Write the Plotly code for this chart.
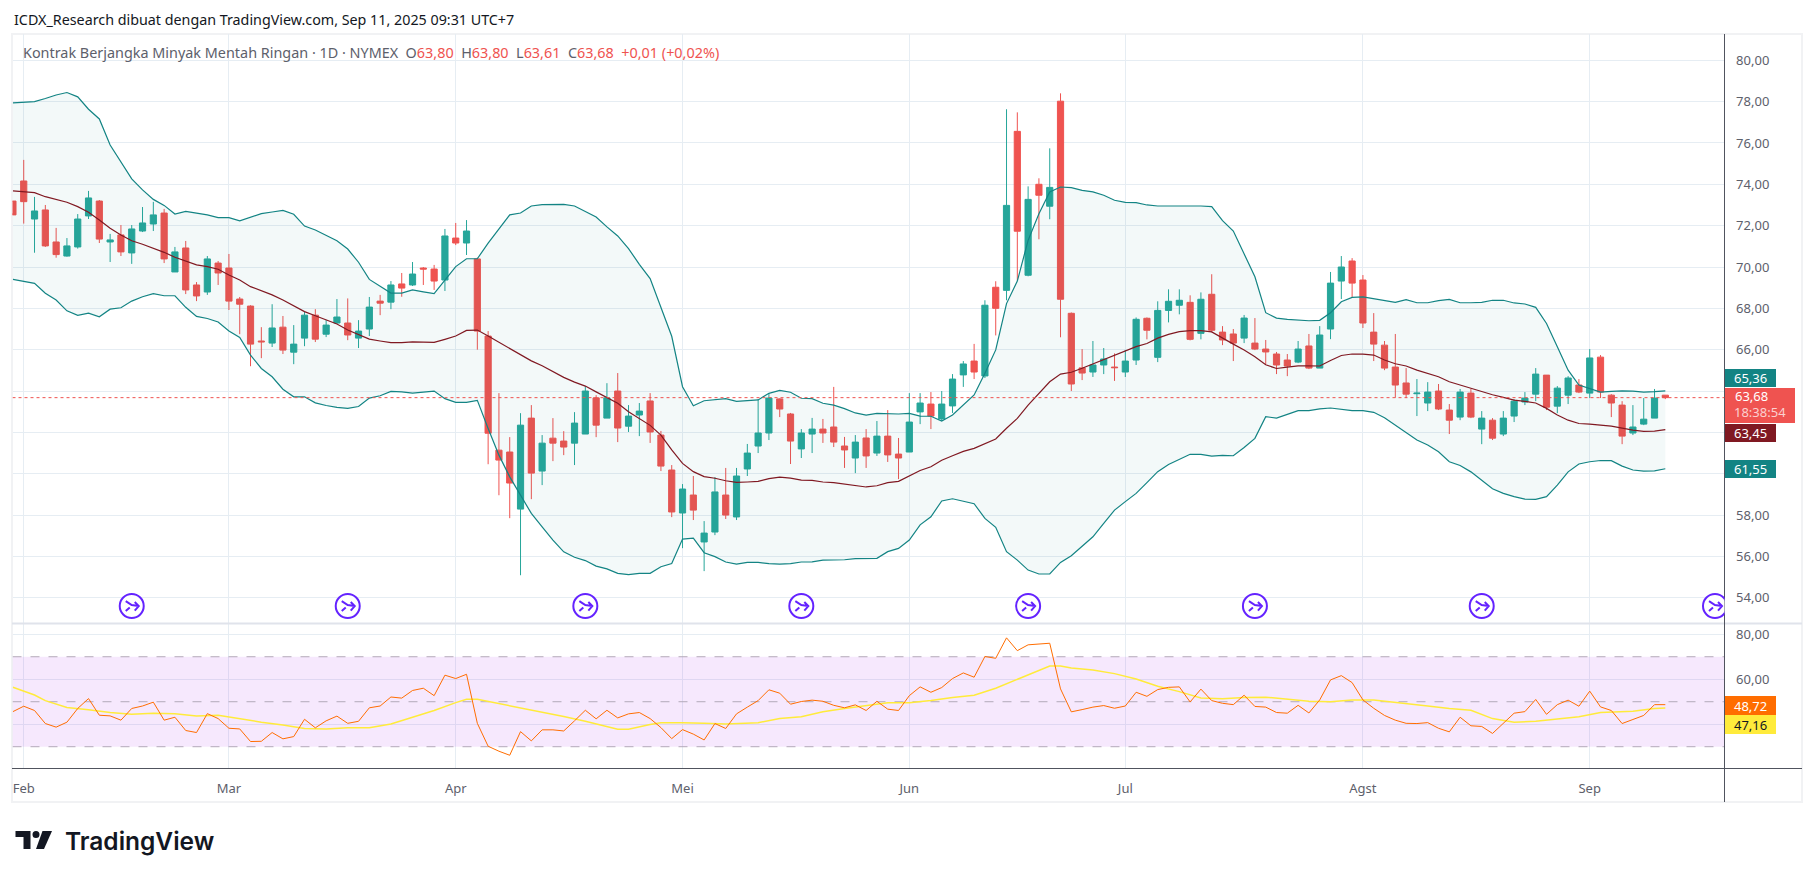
import plotly.graph_objects as go

W = 1814
H = 878

# bar numbers: 0 = Jan 31, last = Sep 11
months = ['Feb', 'Mar', 'Apr', 'Mei', 'Jun', 'Jul', 'Agst', 'Sep']
month_bars = [1, 20, 41, 62, 83, 103, 125, 146]
price_ticks = [54, 56, 58, 60, 62, 64, 66, 68, 70, 72, 74, 76, 78, 80]
# 60, 62 and 64 sit behind the value tags on the scale
price_labels = ['54,00', '56,00', '58,00', '', '', '', '66,00', '68,00', '70,00', '72,00', '74,00', '76,00', '78,00', '80,00']
rsi_ticks = [40, 60, 80]
rsi_labels = ['', '60,00', '80,00']
last_close = 63.68
event_bars = [11, 31, 53, 73, 94, 115, 136, 157.6]
event_price = 53.6

opens = [73.19, 74.16, 72.32, 72.76, 71.21, 70.53, 70.97, 72.47, 73.19, 71.21,
         71.55, 70.68, 71.74, 72.08, 72.61, 69.76, 70.92, 69.13, 68.79, 70.19,
         69.95, 68.45, 68.11, 66.42, 66.32, 67.09, 65.88, 66.56, 67.67, 66.75,
         67.29, 67.29, 66.56, 67.0, 68.35, 68.3, 69.18, 69.13, 69.95, 69.9,
         69.37, 71.4, 71.16, 70.39, 66.66, 61.14, 61.05, 58.29, 62.69, 60.13,
         61.72, 61.58, 61.48, 61.92, 63.67, 62.69, 64.0, 62.3, 62.84, 63.52,
         61.87, 60.18, 58.1, 58.97, 56.7, 57.18, 58.97, 57.91, 60.23, 61.34,
         61.97, 63.62, 62.89, 61.2, 61.92, 62.16, 62.26, 61.34, 60.76, 61.73,
         61.0, 61.82, 60.95, 61.05, 62.99, 63.37, 62.65, 63.28, 64.78, 65.45,
         64.73, 69.02, 68.87, 76.56, 69.6, 74.0, 72.94, 78.02, 67.76, 65.12,
         64.92, 65.26, 65.16, 64.92, 65.5, 67.52, 65.63, 67.9, 68.15, 68.29,
         66.79, 68.68, 66.85, 66.76, 66.56, 66.32, 66.03, 65.79, 65.5, 65.4,
         66.18, 65.11, 67.0, 69.32, 70.29, 69.37, 66.85, 66.22, 65.16, 64.39,
         63.87, 63.42, 64.0, 63.08, 62.74, 63.9, 62.16, 62.59, 61.92, 62.79,
         63.47, 63.85, 64.77, 63.27, 63.8, 64.29, 63.9, 65.64, 63.8, 63.32,
         61.97, 62.4, 62.69, 63.8]
highs = [73.19, 75.18, 73.39, 73.0, 71.89, 71.4, 72.56, 73.68, 73.24, 71.6,
         72.03, 72.03, 72.9, 73.15, 72.81, 70.97, 71.26, 69.27, 70.53, 70.29,
         70.63, 68.55, 68.15, 67.09, 68.2, 67.63, 67.19, 67.82, 67.96, 67.43,
         68.45, 68.48, 67.43, 68.55, 68.65, 69.32, 69.71, 70.24, 70.0, 70.1,
         71.84, 72.13, 72.27, 70.45, 66.9, 63.9, 61.77, 62.93, 63.32, 61.87,
         62.69, 62.06, 62.98, 64.24, 63.8, 64.38, 64.87, 63.32, 63.42, 63.9,
         62.07, 60.42, 59.5, 59.89, 57.71, 59.84, 60.28, 60.28, 61.44, 63.6,
         63.86, 63.65, 62.94, 62.16, 62.7, 62.65, 64.2, 61.78, 61.87, 62.16,
         62.55, 63.08, 61.73, 63.9, 63.9, 63.95, 64.0, 64.82, 65.45, 66.28,
         68.39, 69.31, 77.63, 77.48, 73.9, 74.29, 75.74, 78.4, 67.8, 66.03,
         66.42, 66.08, 65.82, 65.99, 67.56, 67.56, 68.34, 68.92, 68.92, 68.63,
         68.77, 69.65, 67.14, 67.0, 67.68, 67.53, 66.47, 65.89, 65.79, 66.42,
         66.76, 67.14, 69.76, 70.53, 70.43, 69.61, 67.77, 66.42, 66.76, 65.11,
         64.58, 64.43, 64.34, 63.37, 64.1, 64.1, 63.03, 62.69, 63.03, 63.61,
         63.95, 65.11, 64.77, 64.24, 64.72, 64.58, 66.03, 65.74, 63.85, 63.51,
         63.32, 63.66, 64.1, 63.8]
lows = [72.52, 72.1, 70.69, 70.97, 70.45, 70.5, 70.89, 72.32, 71.16, 70.24,
        70.53, 70.15, 71.69, 71.74, 70.19, 69.76, 68.69, 68.35, 68.65, 69.13,
        67.92, 66.75, 65.2, 65.59, 66.13, 65.79, 65.3, 66.17, 66.37, 66.61,
        67.25, 66.46, 66.08, 66.66, 67.67, 67.96, 68.56, 69.08, 69.13, 68.89,
        68.84, 71.06, 70.58, 66.0, 60.46, 58.96, 57.85, 55.09, 58.77, 59.45,
        60.61, 60.9, 60.42, 61.92, 61.77, 62.69, 61.53, 62.02, 61.82, 61.49,
        60.13, 57.9, 56.4, 57.76, 55.29, 57.03, 57.81, 57.76, 59.89, 61.0,
        61.63, 62.74, 60.47, 60.76, 61.0, 61.49, 61.29, 60.28, 60.03, 60.28,
        60.86, 60.57, 59.74, 61.05, 62.4, 62.16, 62.55, 62.94, 64.2, 64.58,
        64.63, 66.69, 68.39, 69.35, 69.55, 71.34, 72.31, 66.6, 64.0, 64.53,
        64.68, 64.82, 64.49, 64.68, 65.26, 66.5, 65.4, 67.32, 67.71, 66.45,
        66.5, 66.84, 66.22, 65.45, 66.32, 65.98, 65.3, 64.82, 64.72, 65.35,
        65.06, 65.11, 66.51, 68.45, 68.55, 67.05, 65.45, 65.01, 63.68, 63.66,
        62.79, 63.03, 63.08, 61.92, 62.59, 62.69, 61.43, 61.63, 61.82, 62.5,
        63.32, 63.51, 63.08, 62.93, 63.37, 63.9, 63.66, 63.66, 62.74, 61.43,
        61.87, 62.35, 62.69, 63.61]
closes = [72.52, 73.16, 72.71, 71.02, 70.6, 71.02, 72.32, 73.34, 71.35, 71.31,
          70.73, 71.84, 72.13, 72.52, 70.39, 70.73, 68.89, 68.6, 70.39, 69.71,
          68.35, 68.2, 66.27, 66.38, 67.05, 65.98, 66.27, 67.67, 66.51, 67.19,
          67.58, 66.71, 66.9, 68.06, 68.25, 69.13, 68.98, 69.66, 69.9, 69.32,
          71.5, 71.16, 71.74, 66.9, 61.96, 60.66, 59.55, 62.35, 60.03, 61.48,
          61.48, 61.29, 62.45, 64.0, 62.35, 63.67, 62.21, 62.79, 63.03, 62.02,
          60.37, 58.15, 59.26, 58.24, 57.13, 59.12, 58.0, 59.89, 61.0, 61.97,
          63.66, 63.13, 61.58, 61.97, 62.16, 61.97, 61.53, 61.15, 61.53, 60.86,
          61.82, 60.91, 60.76, 62.5, 63.42, 62.79, 63.37, 64.58, 65.31, 64.92,
          68.15, 68.0, 72.98, 71.73, 73.27, 73.47, 73.85, 68.44, 64.34, 64.87,
          65.26, 65.55, 65.13, 65.45, 67.47, 66.94, 67.9, 68.34, 68.39, 66.5,
          68.44, 66.94, 66.47, 66.32, 67.53, 66.03, 65.89, 65.26, 65.21, 66.03,
          65.11, 66.71, 69.22, 70.0, 69.22, 67.29, 66.27, 65.11, 64.29, 63.85,
          63.9, 63.95, 63.13, 62.59, 63.95, 62.74, 62.69, 61.72, 62.69, 63.51,
          63.66, 64.82, 63.22, 64.14, 64.63, 63.95, 65.6, 63.95, 63.42, 61.82,
          62.26, 62.64, 63.66, 63.68]

bb_upper = [77.94, 77.97, 78.0, 78.15, 78.32, 78.44, 78.23, 77.63, 77.16, 75.9,
            75.11, 74.26, 73.73, 73.27, 72.98, 72.56, 72.69, 72.6, 72.52, 72.39,
            72.39, 72.23, 72.39, 72.58, 72.66, 72.74, 72.55, 71.98, 71.79, 71.53,
            71.27, 70.87, 70.23, 69.4, 69.08, 68.74, 68.74, 68.89, 68.8, 68.71,
            69.37, 70.02, 70.4, 70.4, 71.15, 71.82, 72.52, 72.61, 72.95, 73.02,
            73.03, 73.03, 72.95, 72.69, 72.42, 71.94, 71.5, 70.89, 70.13, 69.44,
            68.06, 66.65, 64.21, 63.29, 63.53, 63.57, 63.63, 63.5, 63.52, 63.57,
            63.89, 64.03, 63.94, 63.65, 63.63, 63.41, 63.32, 63.15, 62.94, 62.84,
            62.92, 62.89, 62.89, 62.92, 62.79, 62.78, 62.55, 62.84, 63.31, 63.81,
            64.86, 65.99, 68.23, 69.32, 71.29, 72.58, 73.63, 73.87, 73.84, 73.71,
            73.63, 73.47, 73.23, 73.13, 73.11, 73.0, 72.95, 72.95, 72.97, 72.94,
            72.95, 72.92, 72.24, 71.74, 70.66, 69.53, 67.79, 67.53, 67.47, 67.42,
            67.4, 67.42, 67.79, 68.32, 68.53, 68.55, 68.47, 68.37, 68.29, 68.42,
            68.27, 68.27, 68.37, 68.43, 68.27, 68.27, 68.29, 68.39, 68.39, 68.26,
            68.21, 68.05, 67.27, 66.14, 65.01, 64.29, 64.13, 63.95, 63.98, 64.01,
            64.0, 63.95, 63.97, 64.01]
bb_basis = [73.68, 73.65, 73.6, 73.4, 73.27, 73.13, 72.92, 72.65, 72.27, 71.87,
            71.55, 71.27, 71.1, 70.9, 70.71, 70.47, 70.29, 70.1, 70.02, 69.89,
            69.61, 69.37, 69.05, 68.84, 68.65, 68.4, 68.11, 67.84, 67.64, 67.43,
            67.24, 66.95, 66.74, 66.51, 66.42, 66.34, 66.34, 66.38, 66.37, 66.35,
            66.5, 66.66, 66.93, 66.95, 66.66, 66.35, 66.06, 65.77, 65.46, 65.22,
            64.92, 64.66, 64.43, 64.24, 63.96, 63.67, 63.41, 63.0, 62.68, 62.34,
            61.87, 61.15, 60.5, 60.1, 59.86, 59.78, 59.66, 59.58, 59.6, 59.63,
            59.76, 59.84, 59.79, 59.69, 59.68, 59.6, 59.57, 59.49, 59.42, 59.36,
            59.42, 59.57, 59.63, 59.89, 60.16, 60.34, 60.65, 60.87, 61.08, 61.23,
            61.44, 61.68, 62.2, 62.68, 63.32, 63.86, 64.45, 64.82, 64.91, 65.1,
            65.31, 65.5, 65.71, 65.91, 66.15, 66.3, 66.56, 66.74, 66.87, 66.92,
            66.92, 66.86, 66.55, 66.27, 65.98, 65.66, 65.27, 65.09, 65.16, 65.22,
            65.22, 65.21, 65.48, 65.72, 65.79, 65.79, 65.74, 65.5, 65.32, 65.21,
            65.01, 64.85, 64.69, 64.45, 64.29, 64.14, 63.98, 63.82, 63.69, 63.56,
            63.5, 63.42, 63.16, 62.84, 62.59, 62.43, 62.4, 62.35, 62.3, 62.21,
            62.11, 62.05, 62.06, 62.13]
bb_lower = [69.4, 69.32, 69.21, 68.73, 68.4, 67.88, 67.66, 67.77, 67.59, 67.96,
            68.03, 68.35, 68.56, 68.71, 68.61, 68.61, 68.05, 67.61, 67.51, 67.34,
            66.9, 66.59, 65.74, 65.09, 64.69, 64.09, 63.72, 63.72, 63.43, 63.3,
            63.21, 63.16, 63.25, 63.66, 63.77, 63.98, 63.96, 63.9, 63.96, 64.0,
            63.63, 63.45, 63.45, 63.55, 62.19, 60.9, 59.85, 58.96, 58.08, 57.43,
            56.79, 56.22, 55.96, 55.8, 55.53, 55.4, 55.18, 55.12, 55.18, 55.18,
            55.5, 55.66, 56.84, 56.89, 56.18, 55.99, 55.73, 55.63, 55.71, 55.71,
            55.65, 55.63, 55.65, 55.73, 55.74, 55.82, 55.82, 55.84, 55.89, 55.89,
            55.91, 56.23, 56.39, 56.79, 57.53, 57.92, 58.68, 58.79, 58.68, 58.55,
            57.84, 57.41, 56.23, 55.82, 55.34, 55.15, 55.15, 55.71, 56.03, 56.47,
            56.95, 57.6, 58.24, 58.65, 59.05, 59.57, 60.1, 60.45, 60.71, 60.94,
            60.94, 60.85, 60.89, 60.87, 61.27, 61.71, 62.76, 62.69, 62.87, 63.05,
            63.05, 63.14, 63.18, 63.11, 63.05, 63.05, 62.97, 62.71, 62.35, 61.95,
            61.63, 61.39, 61.06, 60.58, 60.4, 60.09, 59.69, 59.27, 59.05, 58.89,
            58.77, 58.76, 58.89, 59.45, 60.09, 60.47, 60.58, 60.64, 60.63, 60.37,
            60.18, 60.13, 60.14, 60.24]

rsi = [45.6, 48, 46.1, 40.3, 38.7, 40.9, 47, 51.4, 44, 43.7,
       41.8, 47, 48.1, 49.8, 41.8, 43.1, 37.2, 36.3, 44.7, 42.5,
       38.2, 37.9, 32.3, 32.4, 36.3, 33.5, 34.5, 42.2, 38.4, 41.5,
       43.6, 40.4, 41.3, 47.3, 48.1, 52.1, 51.6, 55, 56, 52.7,
       61.8, 60.3, 62.2, 40.4, 30.2, 28, 26.2, 36.7, 32.6, 37.5,
       37.5, 37, 41.5, 46.2, 42.4, 46.2, 42.8, 44.6, 45.2, 42.5,
       38.5, 33.6, 37.6, 35.6, 33, 40.3, 38.1, 44.6, 47.6, 50.5,
       55.3, 53.8, 48.9, 50.1, 50.7, 50.2, 48.4, 47.3, 48.6, 46.1,
       50.2, 46.7, 46.1, 52.7, 56.6, 54.2, 56.3, 60.3, 62.8, 60.9,
       70.1, 69.3, 78.4, 72.7, 75.3, 75.6, 76, 55.7, 45.5, 46.5,
       47.6, 48.3, 47.1, 48.1, 54.2, 52.4, 55.4, 56.4, 56.6, 49.9,
       55.6, 50.5, 49.3, 48.7, 52.9, 47.9, 47.6, 45.2, 44.9, 48.4,
       45, 50.8, 59.7, 61.6, 58.5, 50.8, 47.1, 43.9, 41.8, 40.4,
       40.3, 40.7, 38.2, 36.6, 43.1, 39.3, 39, 35.9, 40.4, 44.9,
       45.6, 51, 44.4, 48.7, 50.7, 48, 54.7, 47.7, 46.1, 40.3,
       42.1, 43.9, 48.7, 48.7]
rsi_ma_bars = [0, 2, 3, 5, 7, 9, 11, 13, 15, 17, 19, 21, 23, 25, 27, 29, 31, 33, 35, 37,
               39, 41, 42, 43, 45, 47, 49, 51, 53, 55, 56, 57, 59, 60, 62, 64, 66, 69, 71, 73,
               75, 77, 79, 81, 83, 85, 87, 89, 91, 93, 95, 96, 97, 98, 100, 102, 104, 106, 108, 110,
               112, 114, 116, 118, 120, 122, 124, 126, 128, 131, 133, 135, 137, 139, 141, 143, 145, 147, 150, 152, 153]
rsi_ma = [56.4, 53, 50.5, 47.4, 46.4, 45.2, 44.4, 44.9, 44.6, 43.6, 44, 42.4, 40.9, 39.7, 38.1, 37.9, 38.4, 38.4, 40.1, 43.1,
          46.1, 49.6, 51.1, 51.1, 49.2, 47.3, 45.5, 43.4, 41.3, 39.1, 37.8, 37.8, 39.9, 40.6, 40.7, 40.4, 40.1, 40.7, 42.5, 43.3,
          45.5, 47, 48.4, 49.5, 49.5, 50.5, 51.9, 52.9, 56, 60.1, 64.1, 65.9, 65.9, 65, 64.1, 62.5, 60.1, 56.9, 54.5, 51.7,
          51.3, 51.9, 52, 51.1, 50.2, 50, 50.8, 50.8, 49.6, 48.1, 47, 46.2, 42.5, 40.9, 41.3, 42.2, 43.3, 45.2, 45.8, 47, 47.2]

bars = list(range(len(closes)))
x_range = [-0.04, 158.48]

UP = '#26a69a'
DOWN = '#ef5350'
BAND = '#138484'
BASIS = '#801922'
GRID = '#e6edf3'
AXIS_TEXT = '#5d606b'
FONT = 'Noto Sans'


# pixel position on the page -> paper fraction
def px(x):
    return x / W


def py(y):
    return 1 - y / H


fig = go.Figure()

# bollinger bands
fig.add_trace(go.Scatter(x=bars, y=bb_upper, mode='lines', line=dict(color=BAND, width=1.2), hoverinfo='skip'))
fig.add_trace(go.Scatter(x=bars, y=bb_lower, mode='lines', line=dict(color=BAND, width=1.2), hoverinfo='skip',
                         fill='tonexty', fillcolor='rgba(19,132,132,0.05)'))
fig.add_trace(go.Scatter(x=bars, y=bb_basis, mode='lines', line=dict(color=BASIS, width=1.2), hoverinfo='skip'))

fig.add_trace(go.Candlestick(
    x=bars, open=opens, high=highs, low=lows, close=closes,
    whiskerwidth=0,
    increasing=dict(line=dict(color=UP, width=1), fillcolor=UP),
    decreasing=dict(line=dict(color=DOWN, width=1), fillcolor=DOWN),
))

# rsi pane
fig.add_trace(go.Scatter(x=rsi_ma_bars, y=rsi_ma, mode='lines', line=dict(color='#ffeb3b', width=1.5),
                         xaxis='x2', yaxis='y2', hoverinfo='skip'))
fig.add_trace(go.Scatter(x=bars, y=rsi, mode='lines', line=dict(color='#ff6d00', width=1),
                         xaxis='x2', yaxis='y2', hoverinfo='skip'))

shapes = []

# outer frame and pane lines
shapes.append(dict(type='rect', xref='paper', yref='paper', x0=px(12), x1=px(1802), y0=py(34), y1=py(802),
                   line=dict(color='#f1f2f4', width=2), layer='below'))
shapes.append(dict(type='line', xref='paper', yref='paper', x0=px(12), x1=px(1802), y0=py(623.5), y1=py(623.5),
                   line=dict(color='#e0e3eb', width=2)))
shapes.append(dict(type='line', xref='paper', yref='paper', x0=px(12), x1=px(1802), y0=py(768.5), y1=py(768.5),
                   line=dict(color='#50535e', width=1)))
shapes.append(dict(type='line', xref='paper', yref='paper', x0=px(1724.5), x1=px(1724.5), y0=py(34), y1=py(802),
                   line=dict(color='#50535e', width=1)))

# last price line
shapes.append(dict(type='line', xref='x', yref='y', x0=x_range[0], x1=x_range[1], y0=last_close, y1=last_close,
                   line=dict(color=DOWN, width=1, dash='dot'), layer='above'))

# rsi band
shapes.append(dict(type='rect', xref='x2', yref='y2', x0=x_range[0], x1=x_range[1], y0=30, y1=70,
                   fillcolor='rgba(156,5,235,0.09)', line=dict(width=0), layer='between'))
for level in [30, 50, 70]:
    shapes.append(dict(type='line', xref='x2', yref='y2', x0=x_range[0], x1=x_range[1], y0=level, y1=level,
                       line=dict(color='#b3a9b9', width=1, dash='dash'), layer='between'))

# futures rollover icons
for b in event_bars:
    shapes.append(dict(type='circle', xref='x', yref='y', xsizemode='pixel', ysizemode='pixel',
                       xanchor=b, yanchor=event_price, x0=-12, x1=12, y0=-12, y1=12,
                       fillcolor='white', line=dict(color='#6423ff', width=2)))
    shapes.append(dict(type='path', xref='x', yref='y', xsizemode='pixel', ysizemode='pixel',
                       xanchor=b, yanchor=event_price,
                       path='M-6,5 L0,1 L7,0 M3,4 L7,0 L3,-4.5 M-6,-5 L-2,-1.5',
                       line=dict(color='#6423ff', width=2)))

# logo mark
shapes.append(dict(type='path', xref='paper', yref='paper', fillcolor='#131722', line=dict(width=0),
                   path=f'M{px(15.5)},{py(831)} L{px(30.5)},{py(831)} L{px(30.5)},{py(849)} L{px(23.5)},{py(849)} '
                        f'L{px(23.5)},{py(837)} L{px(15.5)},{py(837)} Z'))
shapes.append(dict(type='circle', xref='paper', yref='paper', fillcolor='#131722', line=dict(width=0),
                   x0=px(32.5), x1=px(39.5), y0=py(838), y1=py(831)))
shapes.append(dict(type='path', xref='paper', yref='paper', fillcolor='#131722', line=dict(width=0),
                   path=f'M{px(42.5)},{py(831)} L{px(52)},{py(831)} L{px(44)},{py(849)} L{px(36)},{py(849)} Z'))

annotations = []


def page_text(text, x, y, size, color, anchor='left', weight=None, family=FONT):
    annotations.append(dict(text=text, xref='paper', yref='paper', x=px(x), y=py(y), showarrow=False,
                            xanchor=anchor, yanchor='middle', align=anchor,
                            font=dict(family=family, size=size, color=color, weight=weight)))


page_text('ICDX_Research dibuat dengan TradingView.com, Sep 11, 2025 09:31 UTC+7', 12, 20, 14.3, '#131722')

r = DOWN
legend = ('Kontrak Berjangka Minyak Mentah Ringan · 1D · NYMEX  '
          f'O<span style="color:{r}">63,80</span>  H<span style="color:{r}">63,80</span>  '
          f'L<span style="color:{r}">63,61</span>  C<span style="color:{r}">63,68</span>  '
          f'<span style="color:{r}">+0,01 (+0,02%)</span>')
page_text(legend, 21, 53, 14.4, AXIS_TEXT)

page_text('TradingView', 63, 841, 24.5, '#131722', weight=600, family='Inter')


# value tags on the price scale
def tag(text, y0, y1, color, text_color, x1=1776):
    shapes.append(dict(type='rect', xref='paper', yref='paper', x0=px(1725), x1=px(x1), y0=py(y0), y1=py(y1),
                       fillcolor=color, line=dict(width=0), layer='above'))
    page_text(text, 1750, (y0 + y1) / 2, 13, text_color, anchor='center')


tag('65,36', 369, 387, BAND, 'white')
shapes.append(dict(type='rect', xref='paper', yref='paper', x0=px(1725), x1=px(1795), y0=py(388), y1=py(423),
                   fillcolor=DOWN, line=dict(width=0), layer='above'))
page_text('63,68', 1751, 396, 13, 'white', anchor='center')
page_text('18:38:54', 1760, 412, 13, '#fbd0cf', anchor='center')
tag('63,45', 424, 442, BASIS, 'white')
tag('61,55', 460, 478, BAND, 'white')
tag('48,72', 696, 715, '#ff6d00', 'white')
tag('47,16', 715, 734, '#ffeb3b', '#131722')

fig.update_layout(
    width=W,
    height=H,
    margin=dict(l=0, r=0, t=0, b=0),
    paper_bgcolor='white',
    plot_bgcolor='white',
    showlegend=False,
    boxgap=0.35,
    boxgroupgap=0.12,
    font=dict(family=FONT, size=13, color=AXIS_TEXT),
    shapes=shapes,
    annotations=annotations,
    xaxis=dict(domain=[px(12.5), px(1724.5)], range=x_range, anchor='y',
               tickvals=month_bars, ticktext=months, showticklabels=False, ticks='',
               showgrid=True, gridcolor=GRID, gridwidth=1, zeroline=False, rangeslider=dict(visible=False)),
    yaxis=dict(domain=[py(623), py(34)], range=[52.78, 81.27], side='right', anchor='x',
               tickvals=price_ticks, ticktext=price_labels, ticks='outside', ticklen=8, tickcolor='rgba(0,0,0,0)',
               showgrid=True, gridcolor=GRID, gridwidth=1, zeroline=False),
    xaxis2=dict(domain=[px(12.5), px(1724.5)], matches='x', anchor='y2',
                tickvals=month_bars, ticktext=months, ticks='outside', ticklen=8, tickcolor='rgba(0,0,0,0)',
                showgrid=True, gridcolor=GRID, gridwidth=1, zeroline=False),
    yaxis2=dict(domain=[py(768.3), py(623)], range=[20.4, 85], side='right', anchor='x2',
                tickvals=rsi_ticks, ticktext=rsi_labels, ticks='outside', ticklen=8, tickcolor='rgba(0,0,0,0)',
                showgrid=True, gridcolor=GRID, gridwidth=1, zeroline=False),
)

fig.write_html("out.html", config=dict(displayModeBar=False),
               post_script="document.body.style.margin='0';document.body.style.overflow='hidden';")
